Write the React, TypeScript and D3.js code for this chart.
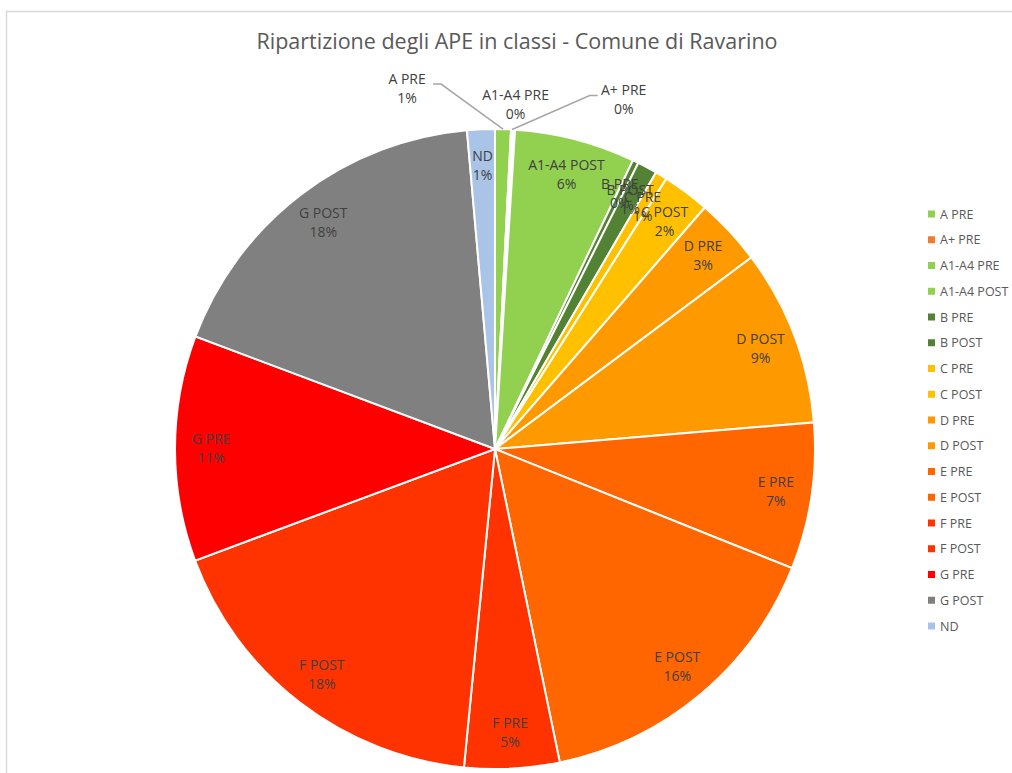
import React from "react";
import * as d3 from "d3";

const categories = [
  "A PRE", "A+ PRE", "A1-A4 PRE", "A1-A4 POST", "B PRE", "B POST", "C PRE", "C POST",
  "D PRE", "D POST", "E PRE", "E POST", "F PRE", "F POST", "G PRE", "G POST", "ND",
];
const values = [0.8, 0.1, 0.1, 6.1, 0.3, 1.0, 0.6, 2.4, 3.4, 8.9, 7.4, 15.7, 4.8, 17.8, 11.4, 17.9, 1.4];
const colors = [
  "#92D050", "#ED7D31", "#92D050", "#92D050", "#548235", "#548235", "#FFC000", "#FFC000",
  "#FF9900", "#FF9900", "#FF6600", "#FF6600", "#FF3300", "#FF3300", "#FF0000", "#808080", "#A9C4E6",
];
const title = "Ripartizione degli APE in classi - Comune di Ravarino";

// outside label placement (style): radius from centre, horizontal shift, leader line side
const outside: Record<string, { r: number; shift: number; leader: number }> = {
  "A PRE": { r: 361, shift: -97, leader: 1 },
  "A1-A4 PRE": { r: 345, shift: 0, leader: 0 },
  "A+ PRE": { r: 350, shift: 110, leader: -1 },
};

const W = 1012, H = 773;
const cx = 495, cy = 449, R = 320;
const FONT = "'Open Sans', sans-serif";

export default function App() {
  const total = d3.sum(values);
  const pie = d3.pie<number>().sort(null).value((d) => d)(values);
  const arc = d3.arc<d3.PieArcDatum<number>>().innerRadius(0).outerRadius(R);
  const labelArc = d3.arc<d3.PieArcDatum<number>>().innerRadius(284).outerRadius(284);

  const legendY = d3.scalePoint<string>().domain(categories).range([214, 626]);

  return (
    <svg width={W} height={H} style={{ position: "absolute", left: 0, top: 0, background: "#fff" }}>
      <rect x={6.5} y={11.5} width={W + 20} height={H + 20} fill="#fff" stroke="#D9D9D9" strokeWidth={1.5} />
      <text x={517} y={49} textAnchor="middle" fontFamily={FONT} fontSize={21.5} fill="#595959">{title}</text>
      <g transform={`translate(${cx},${cy})`}>
        {pie.map((p, i) => (
          <path key={i} d={arc(p) || ""} fill={colors[i]} stroke="#fff" strokeWidth={2} />
        ))}
        {pie.map((p, i) => {
          const name = categories[i];
          const pct = Math.round((values[i] / total) * 100) + "%";
          const mid = (p.startAngle + p.endAngle) / 2;
          let x: number, y: number;
          const o = outside[name];
          let leader: React.ReactNode = null;
          if (o) {
            x = o.r * Math.sin(mid) + o.shift;
            y = -o.r * Math.cos(mid);
            if (o.leader !== 0) {
              const px = R * Math.sin(mid), py = -R * Math.cos(mid);
              const lx = x + o.leader * 26;
              const ly = y - 4;
              const kx = lx + o.leader * 8;
              leader = (
                <polyline points={`${lx},${ly} ${kx},${ly} ${px},${py}`} fill="none" stroke="#A6A6A6" strokeWidth={1.5} />
              );
            }
          } else {
            [x, y] = labelArc.centroid(p);
          }
          return (
            <g key={"l" + i}>
              {leader}
              <text x={x} y={y - 10} textAnchor="middle" dominantBaseline="central" fontFamily={FONT} fontSize={14} fill="#404040">{name}</text>
              <text x={x} y={y + 9} textAnchor="middle" dominantBaseline="central" fontFamily={FONT} fontSize={14} fill="#404040">{pct}</text>
            </g>
          );
        })}
      </g>
      <g>
        {categories.map((c, i) => (
          <g key={c} transform={`translate(928,${legendY(c)})`}>
            <rect x={0} y={-3.5} width={7} height={7} fill={colors[i]} />
            <text x={12} y={0} dominantBaseline="central" fontFamily={FONT} fontSize={12.5} fill="#595959">{c}</text>
          </g>
        ))}
      </g>
    </svg>
  );
}
